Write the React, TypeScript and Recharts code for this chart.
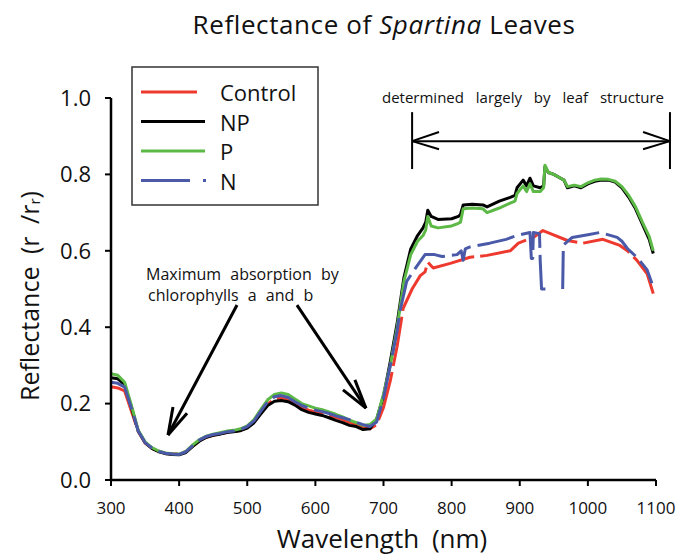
import React from 'react';
import { LineChart, Line, XAxis, YAxis, ReferenceLine } from 'recharts';

const FONT = '"Open Sans", "DejaVu Sans", sans-serif';

// Visible region wavelengths (nm), shared by all four series
const visibleWl = [300, 310, 320, 330, 340, 350, 360, 370, 380, 390, 400, 410, 420, 430, 440, 450, 460, 470, 480, 490, 500, 510, 520, 530, 540, 550, 560, 570, 580, 590, 600, 610, 620, 630, 640, 650, 660, 670, 680, 690, 700];

const controlVis = [0.244, 0.241, 0.233, 0.18, 0.127, 0.097, 0.083, 0.075, 0.07, 0.069, 0.068, 0.074, 0.089, 0.103, 0.112, 0.117, 0.121, 0.124, 0.127, 0.13, 0.138, 0.152, 0.176, 0.199, 0.212, 0.215, 0.212, 0.202, 0.19, 0.183, 0.178, 0.175, 0.17, 0.164, 0.158, 0.151, 0.144, 0.137, 0.134, 0.145, 0.19];
const npVis = [0.268, 0.265, 0.25, 0.19, 0.128, 0.098, 0.083, 0.074, 0.069, 0.067, 0.066, 0.072, 0.088, 0.102, 0.112, 0.117, 0.12, 0.124, 0.126, 0.129, 0.136, 0.15, 0.173, 0.195, 0.206, 0.208, 0.205, 0.196, 0.184, 0.177, 0.173, 0.169, 0.163, 0.156, 0.15, 0.143, 0.14, 0.132, 0.134, 0.16, 0.22];
const pVis = [0.278, 0.274, 0.256, 0.195, 0.13, 0.1, 0.085, 0.076, 0.071, 0.069, 0.068, 0.075, 0.092, 0.106, 0.115, 0.12, 0.124, 0.128, 0.13, 0.134, 0.142, 0.158, 0.185, 0.21, 0.224, 0.228, 0.224, 0.212, 0.2, 0.194, 0.188, 0.184, 0.178, 0.172, 0.165, 0.157, 0.15, 0.143, 0.145, 0.16, 0.225];
const nVis = [0.256, 0.253, 0.243, 0.188, 0.128, 0.098, 0.084, 0.075, 0.07, 0.068, 0.067, 0.074, 0.09, 0.105, 0.114, 0.119, 0.122, 0.126, 0.128, 0.132, 0.14, 0.155, 0.18, 0.205, 0.218, 0.221, 0.216, 0.205, 0.195, 0.188, 0.183, 0.179, 0.174, 0.168, 0.163, 0.158, 0.151, 0.145, 0.14, 0.152, 0.215];

// Near-infrared region (each series read separately)
const controlNirWl = [710, 720, 729, 742, 754, 761, 765, 773, 798, 827, 852, 886, 898, 920, 934, 945, 970, 993, 1022, 1047, 1058, 1072, 1087, 1096];
const controlNir = [0.26, 0.35, 0.45, 0.5, 0.535, 0.545, 0.57, 0.555, 0.567, 0.583, 0.588, 0.6, 0.62, 0.635, 0.653, 0.645, 0.627, 0.62, 0.63, 0.614, 0.6, 0.575, 0.54, 0.488];

const npNirWl = [710, 720, 730, 740, 750, 758, 762, 765, 770, 780, 800, 810, 813, 817, 830, 846, 852, 870, 886, 893, 896, 905, 910, 915, 920, 930, 935, 937, 942, 950, 960, 965, 970, 980, 990, 1000, 1010, 1020, 1030, 1040, 1050, 1060, 1070, 1080, 1090, 1096];
const npNir = [0.31, 0.41, 0.53, 0.605, 0.64, 0.66, 0.675, 0.706, 0.69, 0.682, 0.684, 0.69, 0.695, 0.72, 0.722, 0.72, 0.715, 0.73, 0.74, 0.745, 0.765, 0.785, 0.77, 0.79, 0.77, 0.765, 0.77, 0.82, 0.805, 0.8, 0.79, 0.785, 0.765, 0.77, 0.765, 0.775, 0.782, 0.785, 0.785, 0.78, 0.765, 0.74, 0.71, 0.67, 0.63, 0.593];

const pNirWl = npNirWl;
const pNir = [0.3, 0.4, 0.52, 0.59, 0.625, 0.64, 0.655, 0.69, 0.665, 0.66, 0.665, 0.672, 0.675, 0.71, 0.712, 0.71, 0.7, 0.712, 0.725, 0.73, 0.75, 0.77, 0.755, 0.775, 0.755, 0.755, 0.765, 0.824, 0.805, 0.8, 0.79, 0.785, 0.768, 0.772, 0.768, 0.778, 0.785, 0.788, 0.787, 0.782, 0.768, 0.745, 0.715, 0.675, 0.638, 0.6];

const nNirWl = [710, 720, 724, 734, 749, 761, 775, 786, 808, 814, 817, 820, 827, 856, 880, 896, 915, 917, 919, 920, 929, 930, 932, 942, 950, 963, 964, 977, 1000, 1018, 1043, 1050, 1058, 1072, 1087, 1094];
const nNir = [0.3, 0.39, 0.44, 0.52, 0.56, 0.59, 0.59, 0.585, 0.59, 0.6, 0.575, 0.605, 0.61, 0.62, 0.63, 0.64, 0.648, 0.58, 0.58, 0.648, 0.645, 0.575, 0.5, 0.5, null, 0.5, 0.615, 0.635, 0.642, 0.648, 0.635, 0.625, 0.606, 0.583, 0.55, 0.515];

const xTicks = [300, 400, 500, 600, 700, 800, 900, 1000, 1100];
const yTicks = [0, 0.2, 0.4, 0.6, 0.8, 1.0];

const seriesNames = ['Control', 'NP', 'P', 'N'];
const seriesColors = ['#ee3a2e', '#000000', '#5cb946', '#4a5aa9'];

const toPoints = (wl: number[], vals: (number | null)[]) => wl.map((w, i) => ({ wl: w, r: vals[i] }));

const controlData = toPoints([...visibleWl, ...controlNirWl], [...controlVis, ...controlNir]);
const npData = toPoints([...visibleWl, ...npNirWl], [...npVis, ...npNir]);
const pData = toPoints([...visibleWl, ...pNirWl], [...pVis, ...pNir]);
const nData = toPoints([...visibleWl, ...nNirWl], [...nVis, ...nNir]);

// Annotation arrows (data coordinates)
const arrowSegs: { x: number; y: number }[][] = [
  [{ x: 742, y: 0.887 }, { x: 1120.5, y: 0.887 }],
  [{ x: 742, y: 0.963 }, { x: 742, y: 0.814 }],
  [{ x: 1120.5, y: 0.963 }, { x: 1120.5, y: 0.814 }],
  [{ x: 742, y: 0.887 }, { x: 781.5, y: 0.911 }],
  [{ x: 742, y: 0.887 }, { x: 781.5, y: 0.866 }],
  [{ x: 1120.5, y: 0.887 }, { x: 1081, y: 0.911 }],
  [{ x: 1120.5, y: 0.887 }, { x: 1081, y: 0.866 }],
];
const absorbSegs: { x: number; y: number }[][] = [
  [{ x: 485, y: 0.458 }, { x: 383.7, y: 0.118 }],
  [{ x: 383.7, y: 0.118 }, { x: 391, y: 0.191 }],
  [{ x: 383.7, y: 0.118 }, { x: 411.6, y: 0.175 }],
  [{ x: 573, y: 0.458 }, { x: 674.3, y: 0.188 }],
  [{ x: 674.3, y: 0.188 }, { x: 658, y: 0.262 }],
  [{ x: 674.3, y: 0.188 }, { x: 640.5, y: 0.236 }],
];

export default function App() {
  const seriesData = [controlData, npData, pData, nData];
  return (
    <div style={{ position: 'absolute', left: 0, top: 0, width: 679, height: 558, background: '#fff' }}>
      <LineChart width={679} height={558} margin={{ top: 98, right: 23, bottom: 28, left: 31 }}>
        <XAxis
          type="number"
          dataKey="wl"
          domain={[300, 1100]}
          ticks={xTicks}
          allowDataOverflow
          height={50}
          tickSize={6}
          tickMargin={16}
          axisLine={{ stroke: '#000', strokeWidth: 2.5 }}
          tickLine={{ stroke: '#000', strokeWidth: 2 }}
          tick={{ fontSize: 17, fill: '#111', fontFamily: FONT }}
        />
        <YAxis
          type="number"
          domain={[0, 1]}
          ticks={yTicks}
          width={80}
          tickSize={6}
          tickMargin={14}
          tickFormatter={(v: number) => v.toFixed(1)}
          axisLine={{ stroke: '#000', strokeWidth: 2.5 }}
          tickLine={{ stroke: '#000', strokeWidth: 2 }}
          tick={{ fontSize: 22, fill: '#111', fontFamily: FONT }}
        />
        {seriesData.map((d, i) => (
          <Line
            key={seriesNames[i]}
            data={d}
            dataKey="r"
            type="linear"
            stroke={seriesColors[i]}
            strokeWidth={3}
            strokeDasharray={i === 3 ? '38 7' : i === 0 ? '50 6' : undefined}
            dot={false}
            activeDot={false}
            connectNulls={false}
            strokeLinejoin="round"
            isAnimationActive={false}
          />
        ))}
        {arrowSegs.map((s, i) => (
          <ReferenceLine key={'a' + i} segment={s} ifOverflow="visible" stroke="#000" strokeWidth={2} />
        ))}
        {absorbSegs.map((s, i) => (
          <ReferenceLine key={'b' + i} segment={s} ifOverflow="visible" stroke="#000" strokeWidth={3} />
        ))}
      </LineChart>
      <svg
        width={679}
        height={558}
        style={{ position: 'absolute', left: 0, top: 0, pointerEvents: 'none' }}
        fontFamily={FONT}
      >
        <text x={384} y={34} textAnchor="middle" fontSize={26} fill="#111" letterSpacing={0.6}>
          Reflectance of <tspan fontStyle="italic">Spartina</tspan> Leaves
        </text>
        <text x={382} y={548} textAnchor="middle" fontSize={26} fill="#111" wordSpacing={6}>
          Wavelength (nm)
        </text>
        <text
          transform="translate(29,296) rotate(-90)"
          textAnchor="middle"
          dominantBaseline="central"
          fontSize={25}
          fill="#111"
          wordSpacing={6}
        >
          Reflectance (r /r<tspan fontSize={15} dy={5}>r</tspan>
          <tspan dy={-5}>)</tspan>
        </text>
        <text x={523} y={103} textAnchor="middle" fontSize={15} fill="#111" wordSpacing={8}>
          determined largely by leaf structure
        </text>
        <text x={146} y={280} fontSize={16} fill="#111" wordSpacing={5}>
          Maximum absorption by
        </text>
        <text x={148} y={301} fontSize={16} fill="#111" wordSpacing={5}>
          chlorophylls a and b
        </text>
        <rect x={132} y={67} width={186} height={138} fill="#fff" stroke="#333" strokeWidth={1.5} />
        {seriesNames.map((name, i) => {
          const y = 92 + i * 29.5;
          return (
            <g key={name}>
              {i === 3 ? (
                <>
                  <line x1={141} y1={y} x2={190} y2={y} stroke={seriesColors[i]} strokeWidth={3} />
                  <line x1={203} y1={y} x2={206} y2={y} stroke={seriesColors[i]} strokeWidth={3} />
                </>
              ) : (
                <line x1={141} y1={y} x2={i === 0 ? 197 : 205} y2={y} stroke={seriesColors[i]} strokeWidth={3} />
              )}
              <text x={220} y={y} dominantBaseline="central" fontSize={22} fill="#111">
                {name}
              </text>
            </g>
          );
        })}
      </svg>
    </div>
  );
}
